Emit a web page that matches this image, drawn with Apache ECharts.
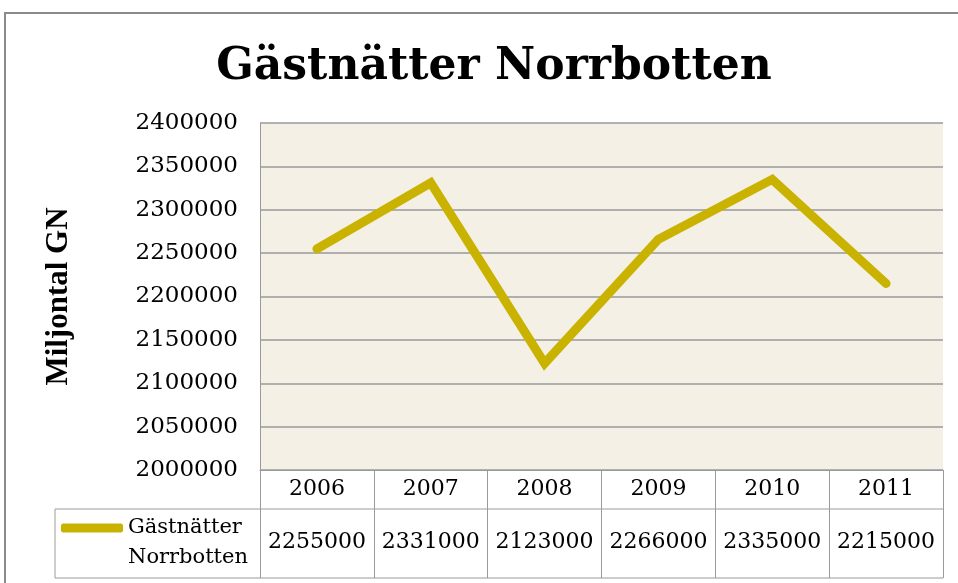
<!DOCTYPE html>
<html>
<head>
<meta charset="utf-8">
<script src="https://cdn.jsdelivr.net/npm/echarts@6/dist/echarts.min.js"></script>
<style>
  html, body { margin: 0; padding: 0; background: #ffffff; }
  #main { width: 958px; height: 583px; }
</style>
</head>
<body>
<div id="main"></div>
<script>
var years = ['2006', '2007', '2008', '2009', '2010', '2011']
var guestNights = [2255000, 2331000, 2123000, 2266000, 2335000, 2215000]
var seriesName = 'Gästnätter Norrbotten'

var serif = 'DejaVu Serif'
var gold = '#C9B300'
var lineGray = '#9a9a9a'

var myChart = echarts.init(document.getElementById('main'))

var option = {
  backgroundColor: '#ffffff',
  animation: false,
  title: {
    text: 'Gästnätter Norrbotten',
    left: 489,
    top: 41,
    textAlign: 'center',
    textStyle: {
      fontFamily: serif,
      fontWeight: 'bold',
      fontSize: 44,
      color: '#000'
    }
  },
  legend: {
    data: [seriesName],
    left: 56,
    top: 478,
    icon: 'roundRect',
    itemWidth: 62,
    itemHeight: 9,
    itemGap: 4,
    // leading blank line keeps the swatch level with the first text line
    formatter: function () { return '\nGästnätter\nNorrbotten' },
    textStyle: {
      fontFamily: serif,
      fontSize: 21,
      lineHeight: 30,
      color: '#000'
    }
  },
  grid: {
    left: 260,
    right: 15,
    top: 123,
    bottom: 113,
    show: true,
    backgroundColor: '#F4F0E6',
    borderWidth: 0
  },
  xAxis: [{
    type: 'category',
    data: years,
    boundaryGap: true,
    axisLine: { show: true, lineStyle: { color: lineGray, width: 1 } },
    axisTick: { show: true, length: 108, lineStyle: { color: lineGray, width: 1 } },
    axisLabel: {
      margin: 8,
      interval: 0,
      fontFamily: serif,
      fontSize: 22,
      color: '#000'
    },
    splitLine: { show: false }
  }, {
    type: 'category',
    position: 'bottom',
    offset: 39,
    data: guestNights.map(String),
    axisLine: { show: false },
    axisTick: { show: false },
    axisLabel: {
      margin: 22,
      interval: 0,
      hideOverlap: false,
      fontFamily: serif,
      fontSize: 22,
      color: '#000'
    }
  }],
  yAxis: {
    type: 'value',
    min: 2000000,
    max: 2400000,
    interval: 50000,
    name: 'Miljontal GN',
    nameLocation: 'middle',
    nameGap: 186,
    nameTextStyle: {
      fontFamily: 'Liberation Serif',
      fontWeight: 'bold',
      fontSize: 31,
      color: '#000'
    },
    axisLine: { show: true, lineStyle: { color: lineGray, width: 1 } },
    axisTick: { show: false },
    axisLabel: {
      margin: 22,
      fontFamily: serif,
      fontSize: 23,
      color: '#000',
      formatter: function (v) { return String(v) }
    },
    splitLine: { show: true, lineStyle: { color: lineGray, width: 1.5 } }
  },
  graphic: [
    // outer chart frame
    { type: 'rect', shape: { x: 5, y: 13, width: 980, height: 600 }, style: { fill: 'none', stroke: '#8a8a8a', lineWidth: 2 }, silent: true },
    // data table borders
    { type: 'line', shape: { x1: 55, y1: 509, x2: 943, y2: 509 }, style: { stroke: lineGray, lineWidth: 1 } },
    { type: 'line', shape: { x1: 55, y1: 578, x2: 943, y2: 578 }, style: { stroke: lineGray, lineWidth: 1 } },
    { type: 'line', shape: { x1: 55, y1: 509, x2: 55, y2: 578 }, style: { stroke: lineGray, lineWidth: 1 } }
  ],
  series: [{
    name: seriesName,
    type: 'line',
    data: guestNights,
    xAxisIndex: 0,
    showSymbol: false,
    symbol: 'none',
    color: gold,
    lineStyle: { color: gold, width: 9, cap: 'round', join: 'miter' }
  }]
}

myChart.setOption(option)
</script>
</body>
</html>
